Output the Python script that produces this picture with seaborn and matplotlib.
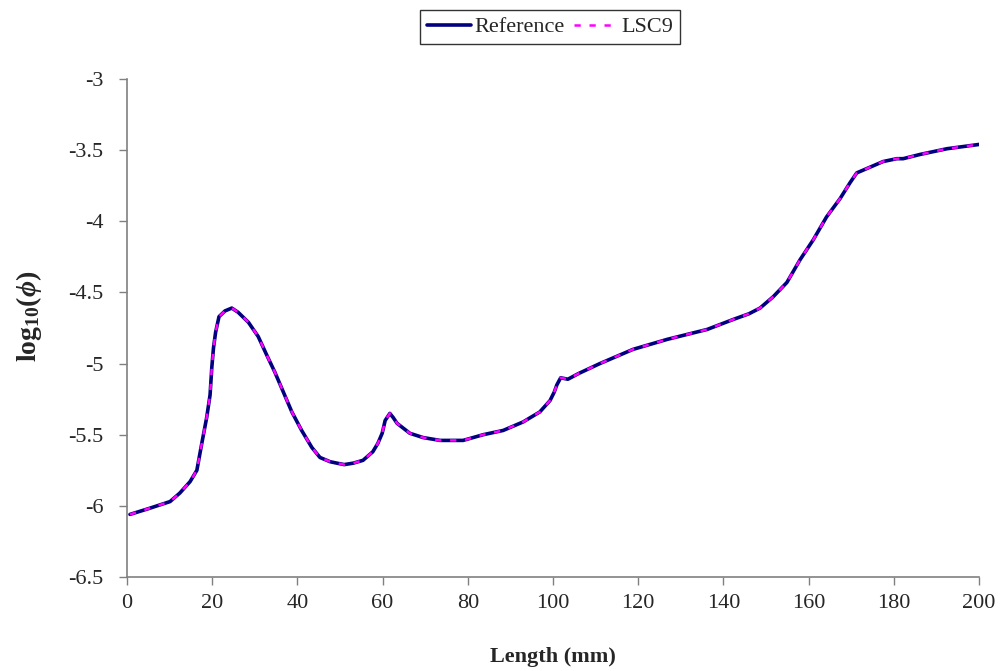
import matplotlib
matplotlib.use("Agg")
import matplotlib.pyplot as plt
import seaborn as sns
import pandas as pd

# Axial position along the rod (mm)
length_mm = [0.7, 5.0, 10.1, 12.4, 14.8, 16.4, 17.5, 18.7, 19.5, 19.9, 20.3, 20.8,
             21.6, 23.0, 24.6, 26.1, 28.5, 30.8, 32.8, 34.7, 36.7, 38.7, 41.0, 43.4,
             45.3, 47.7, 49.3, 51.0, 53.1, 55.4, 57.7, 58.9, 59.9, 60.6, 61.7, 62.5,
             63.4, 66.4, 69.5, 73.5, 78.9, 83.6, 88.3, 93.0, 96.9, 99.3, 100.3, 100.9,
             101.8, 103.5, 106.0, 111.0, 118.8, 126.8, 136.2, 142.3, 146.0, 148.6,
             151.7, 154.9, 158.0, 161.1, 164.2, 167.4, 169.7, 171.3, 174.4, 177.5,
             180.7, 182.2, 186.2, 192.5, 200.0]

# log10 of the flux, reference solution
reference = [-6.06, -6.02, -5.97, -5.91, -5.83, -5.75, -5.57, -5.38, -5.22, -5.03, -4.89, -4.78,
             -4.67, -4.63, -4.61, -4.64, -4.71, -4.81, -4.94, -5.06, -5.20, -5.34, -5.47, -5.59,
             -5.66, -5.69, -5.70, -5.71, -5.70, -5.68, -5.62, -5.56, -5.49, -5.40, -5.35, -5.38,
             -5.42, -5.49, -5.52, -5.54, -5.54, -5.50, -5.47, -5.41, -5.34, -5.26, -5.20, -5.15,
             -5.10, -5.11, -5.07, -5.00, -4.90, -4.83, -4.76, -4.69, -4.65, -4.61,
             -4.53, -4.43, -4.27, -4.13, -3.97, -3.84, -3.73, -3.66, -3.62, -3.58,
             -3.56, -3.56, -3.53, -3.49, -3.46]

# log10 of the flux, LSC9 calculation
lsc9 = [-6.06, -6.02, -5.97, -5.91, -5.83, -5.75, -5.57, -5.38, -5.22, -5.03, -4.89, -4.78,
        -4.67, -4.63, -4.61, -4.64, -4.71, -4.81, -4.94, -5.06, -5.20, -5.34, -5.47, -5.59,
        -5.66, -5.69, -5.70, -5.71, -5.70, -5.68, -5.62, -5.56, -5.49, -5.40, -5.35, -5.38,
        -5.42, -5.49, -5.52, -5.54, -5.54, -5.50, -5.47, -5.41, -5.34, -5.26, -5.20, -5.15,
        -5.10, -5.11, -5.07, -5.00, -4.90, -4.83, -4.76, -4.69, -4.65, -4.61,
        -4.53, -4.43, -4.27, -4.13, -3.97, -3.84, -3.73, -3.66, -3.62, -3.58,
        -3.56, -3.56, -3.53, -3.49, -3.46]

x_ticks = [0, 20, 40, 60, 80, 100, 120, 140, 160, 180, 200]
y_ticks = [-3, -3.5, -4, -4.5, -5, -5.5, -6, -6.5]
y_tick_labels = ["-3", "-3.5", "-4", "-4.5", "-5", "-5.5", "-6", "-6.5"]

sns.set_style("ticks")
plt.rcParams["font.family"] = ["Liberation Serif", "DejaVu Serif"]
plt.rcParams["axes.unicode_minus"] = False
plt.rcParams["mathtext.fontset"] = "custom"
plt.rcParams["mathtext.rm"] = "Liberation Serif:bold"
plt.rcParams["mathtext.it"] = "Liberation Serif:bold:italic"
plt.rcParams["mathtext.bf"] = "Liberation Serif:bold"

fig = plt.figure(figsize=(10.02, 6.71), dpi=100)
ax = fig.add_axes([127 / 1002, 1 - 577 / 671, (979 - 127) / 1002, (577 - 79) / 671])

df_ref = pd.DataFrame({"x": length_mm, "y": reference})
df_lsc = pd.DataFrame({"x": length_mm, "y": lsc9})

sns.lineplot(data=df_ref, x="x", y="y", ax=ax, color="#000080", lw=2.6,
             label="Reference", sort=False)
sns.lineplot(data=df_lsc, x="x", y="y", ax=ax, color="#FF00FF", lw=1.8,
             label="LSC9", sort=False)
ax.lines[1].set_linestyle((0, (2.5, 3.5)))
for ln in ax.lines:
    ln.set_solid_joinstyle("round")
    ln.set_dash_joinstyle("round")

ax.set_xlim(0, 200)
ax.set_ylim(-6.5, -3)
ax.set_xticks(x_ticks)
ax.set_xticklabels([str(t) for t in x_ticks])
ax.set_yticks(y_ticks)
ax.set_yticklabels(y_tick_labels)
ax.tick_params(axis="both", labelsize=16, length=6, width=1, color="#808080",
               direction="out")
ax.tick_params(axis="y", pad=11)
ax.tick_params(axis="x", pad=6)
for side in ["left", "bottom"]:
    ax.spines[side].set_color("#808080")
    ax.spines[side].set_linewidth(1.2)
sns.despine(ax=ax)

ax.set_xlabel("Length (mm)", fontsize=16, fontweight="bold")
ax.xaxis.set_label_coords(0.5, -(657 - 577) / 498, transform=ax.transAxes)
ax.xaxis.label.set_verticalalignment("center")
ax.set_ylabel(r"log$_{\mathrm{10}}$($\phi$)", fontsize=20, fontweight="bold")
ax.yaxis.set_label_coords(-(127 - 29) / 852, (577 - 316) / 498, transform=ax.transAxes)
ax.yaxis.label.set_verticalalignment("center")

leg = ax.legend(loc="center", bbox_to_anchor=(550 / 1002, 1 - 27 / 671),
                bbox_transform=fig.transFigure, ncol=2, frameon=True, fancybox=False,
                fontsize=16, handlelength=2.0, handletextpad=0.12, columnspacing=0.45,
                borderpad=0.3, borderaxespad=0)
leg.get_frame().set_edgecolor("black")
leg.get_frame().set_linewidth(1.0)

fig.savefig("out.png", dpi=100, facecolor="white")
